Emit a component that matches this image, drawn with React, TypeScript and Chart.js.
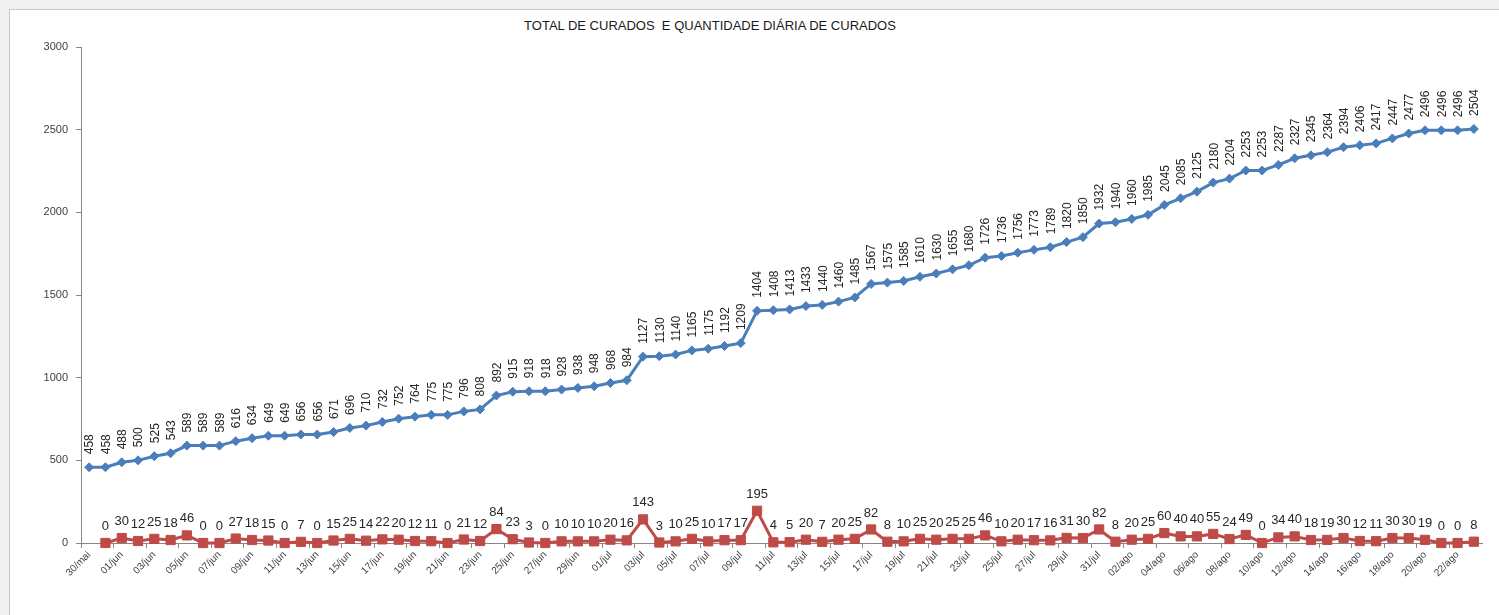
import React, { useEffect, useRef } from "react";
import { Chart, registerables } from "chart.js";

Chart.register(...registerables);

const TITLE = "TOTAL DE CURADOS  E QUANTIDADE DIÁRIA DE CURADOS";

const dates: string[] = [
  "30/mai", "31/mai",
  "01/jun", "02/jun", "03/jun", "04/jun", "05/jun", "06/jun", "07/jun", "08/jun", "09/jun", "10/jun",
  "11/jun", "12/jun", "13/jun", "14/jun", "15/jun", "16/jun", "17/jun", "18/jun", "19/jun", "20/jun",
  "21/jun", "22/jun", "23/jun", "24/jun", "25/jun", "26/jun", "27/jun", "28/jun", "29/jun", "30/jun",
  "01/jul", "02/jul", "03/jul", "04/jul", "05/jul", "06/jul", "07/jul", "08/jul", "09/jul", "10/jul",
  "11/jul", "12/jul", "13/jul", "14/jul", "15/jul", "16/jul", "17/jul", "18/jul", "19/jul", "20/jul",
  "21/jul", "22/jul", "23/jul", "24/jul", "25/jul", "26/jul", "27/jul", "28/jul", "29/jul", "30/jul", "31/jul",
  "01/ago", "02/ago", "03/ago", "04/ago", "05/ago", "06/ago", "07/ago", "08/ago", "09/ago", "10/ago",
  "11/ago", "12/ago", "13/ago", "14/ago", "15/ago", "16/ago", "17/ago", "18/ago", "19/ago", "20/ago",
  "21/ago", "22/ago", "23/ago",
];

const totalCurados: number[] = [
  458, 458, 488, 500, 525, 543, 589, 589, 589, 616,
  634, 649, 649, 656, 656, 671, 696, 710, 732, 752,
  764, 775, 775, 796, 808, 892, 915, 918, 918, 928,
  938, 948, 968, 984, 1127, 1130, 1140, 1165, 1175, 1192,
  1209, 1404, 1408, 1413, 1433, 1440, 1460, 1485, 1567, 1575,
  1585, 1610, 1630, 1655, 1680, 1726, 1736, 1756, 1773, 1789,
  1820, 1850, 1932, 1940, 1960, 1985, 2045, 2085, 2125, 2180,
  2204, 2253, 2253, 2287, 2327, 2345, 2364, 2394, 2406, 2417,
  2447, 2477, 2496, 2496, 2496, 2504,
];

const diariaCurados: (number | null)[] = [
  null, 0, 30, 12, 25, 18, 46, 0, 0, 27,
  18, 15, 0, 7, 0, 15, 25, 14, 22, 20,
  12, 11, 0, 21, 12, 84, 23, 3, 0, 10,
  10, 10, 20, 16, 143, 3, 10, 25, 10, 17,
  17, 195, 4, 5, 20, 7, 20, 25, 82, 8,
  10, 25, 20, 25, 25, 46, 10, 20, 17, 16,
  31, 30, 82, 8, 20, 25, 60, 40, 40, 55,
  24, 49, 0, 34, 40, 18, 19, 30, 12, 11,
  30, 30, 19, 0, 0, 8,
];

const yTicks: number[] = [0, 500, 1000, 1500, 2000, 2500, 3000];

const BLUE = "#4a7ebb";
const RED = "#be4b48";
const AXIS = "#868686";
const FONT = '"Liberation Sans", Arial, sans-serif';

const pointLabelPlugin = {
  id: "pointLabels",
  afterDatasetsDraw(chart: any) {
    const ctx = chart.ctx;
    chart.data.datasets.forEach((ds: any, di: number) => {
      const meta = chart.getDatasetMeta(di);
      meta.data.forEach((pt: any, i: number) => {
        const v = ds.data[i];
        if (v == null) return;
        ctx.save();
        ctx.fillStyle = "#262626";
        if (di === 0) {
          ctx.font = `12px ${FONT}`;
          ctx.translate(pt.x + 1, pt.y - 13);
          ctx.rotate(-Math.PI / 2);
          ctx.textAlign = "left";
          ctx.textBaseline = "middle";
          ctx.fillText(String(v), 0, 0);
        } else {
          ctx.font = `13px ${FONT}`;
          ctx.textAlign = "center";
          ctx.textBaseline = "bottom";
          ctx.fillText(String(v), pt.x, pt.y - 10);
        }
        ctx.restore();
      });
    });
  },
};

export default function App() {
  const canvasRef = useRef<HTMLCanvasElement | null>(null);

  useEffect(() => {
    if (!canvasRef.current) return;
    const chart = new Chart(canvasRef.current, {
      type: "line",
      data: {
        labels: dates,
        datasets: [
          {
            label: "Total de curados",
            data: totalCurados,
            borderColor: BLUE,
            backgroundColor: BLUE,
            borderWidth: 3,
            pointStyle: "rectRot",
            pointRadius: 4.5,
            pointBackgroundColor: BLUE,
            pointBorderColor: BLUE,
            pointBorderWidth: 1,
            tension: 0,
            clip: false as any,
          },
          {
            label: "Quantidade diária de curados",
            data: diariaCurados,
            borderColor: RED,
            backgroundColor: RED,
            borderWidth: 3,
            pointStyle: "rect",
            pointRadius: 6.5,
            pointBackgroundColor: RED,
            pointBorderColor: RED,
            pointBorderWidth: 1,
            tension: 0,
            clip: false as any,
          },
        ],
      },
      options: {
        animation: false,
        responsive: true,
        maintainAspectRatio: false,
        layout: { padding: { top: 37, right: 17, left: 0, bottom: 0 } },
        plugins: {
          legend: { display: false },
          tooltip: { enabled: false },
          title: { display: false },
        },
        scales: {
          x: {
            type: "category",
            offset: true,
            afterFit: (scale: any) => {
              scale.height = 72;
            },
            border: { display: true, color: AXIS, width: 1 },
            grid: {
              display: true,
              offset: true,
              drawOnChartArea: false,
              drawTicks: true,
              tickLength: 5,
              color: (c: any) => (c.index % 2 === 0 ? AXIS : "rgba(0,0,0,0)"),
            },
            ticks: {
              autoSkip: false,
              minRotation: 45,
              maxRotation: 45,
              padding: 1,
              color: "#404040",
              font: { family: FONT, size: 10 },
              callback: (_v: any, idx: number) => (idx % 2 === 0 ? dates[idx] : ""),
            },
          },
          y: {
            min: 0,
            max: 3000,
            afterFit: (scale: any) => {
              scale.width = 71;
            },
            afterBuildTicks: (scale: any) => {
              scale.ticks = yTicks.map((v) => ({ value: v }));
            },
            border: { display: true, color: AXIS, width: 1 },
            grid: {
              display: true,
              drawOnChartArea: false,
              drawTicks: true,
              tickLength: 5,
              color: AXIS,
            },
            ticks: {
              padding: 8,
              color: "#404040",
              font: { family: FONT, size: 11 },
              callback: (v: any) => String(v),
            },
          },
        },
      },
      plugins: [pointLabelPlugin],
    });
    return () => chart.destroy();
  }, []);

  return (
    <div style={{ position: "fixed", left: 0, top: 0, width: 1499, height: 615, background: "#f0f0f0", overflow: "hidden" }}>
      <div
        style={{
          position: "absolute",
          left: 9,
          top: 9,
          right: 0,
          bottom: 0,
          background: "#ffffff",
          borderLeft: "1px solid #c8c8c8",
          borderTop: "1px solid #c8c8c8",
        }}
      >
        <div
          style={{
            position: "absolute",
            left: 700,
            top: 8,
            transform: "translateX(-50%)",
            whiteSpace: "pre",
            fontFamily: FONT,
            fontSize: 13,
            fontWeight: 500,
            color: "#1a1a1a",
          }}
        >
          {TITLE}
        </div>
        <div style={{ position: "absolute", left: 0, top: 0, width: 1489, height: 605 }}>
          <canvas ref={canvasRef} />
        </div>
      </div>
    </div>
  );
}
